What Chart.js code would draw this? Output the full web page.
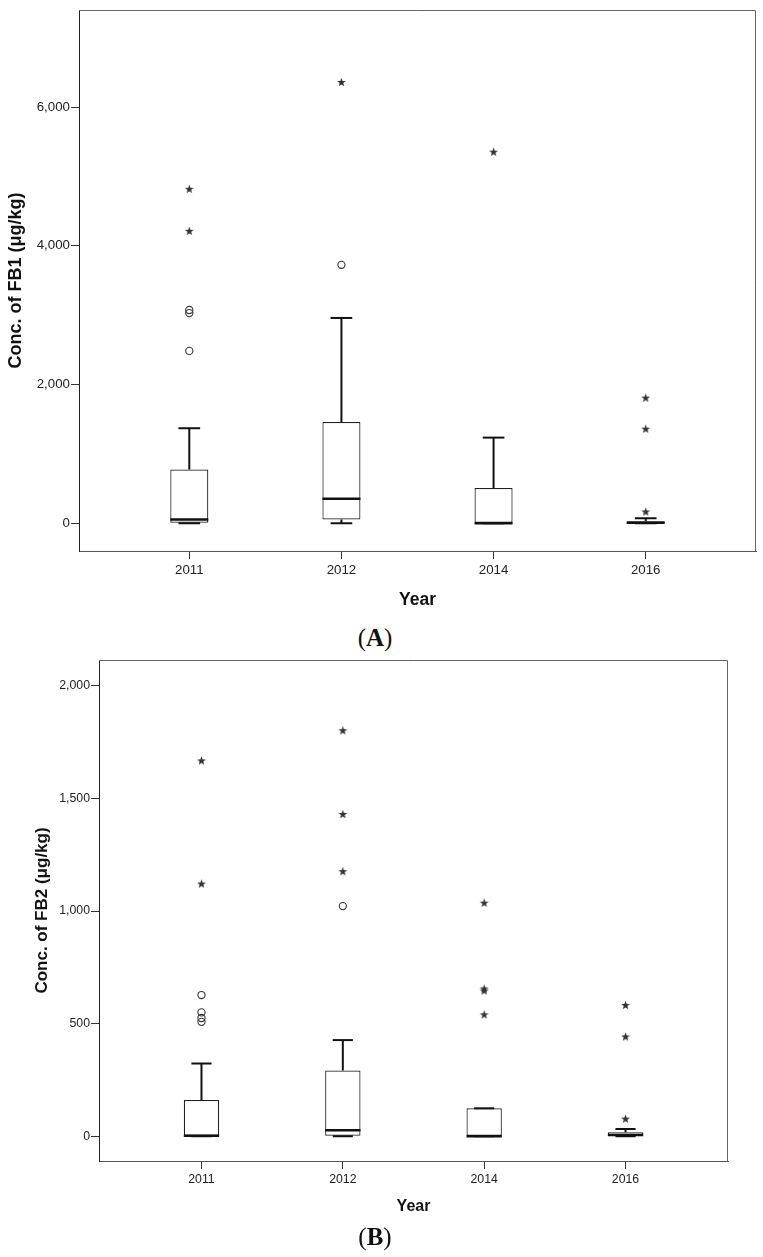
<!DOCTYPE html>
<html>
<head>
<meta charset="utf-8">
<script src="https://cdn.jsdelivr.net/npm/chart.js@4.4.1/dist/chart.umd.min.js"></script>
<style>
  html, body { margin: 0; padding: 0; background: #fff; }
  body { width: 763px; height: 1257px; position: relative; overflow: hidden; }
  canvas { position: absolute; left: 0; }
  #chartA { top: 0; }
  #chartB { top: 650px; }
  .panel { position: absolute; left: 0; width: 750px; text-align: center; font-family: 'Liberation Serif', 'Times New Roman', serif; font-size: 25px; line-height: 25px; color: #111; }
</style>
</head>
<body>
<canvas id="chartA" width="763" height="622"></canvas>
<div class="panel" style="top:625px">(<b>A</b>)</div>
<canvas id="chartB" width="763" height="575"></canvas>
<div class="panel" style="top:1224px">(<b>B</b>)</div>
<script>
const years = ['2011', '2012', '2014', '2016'];

// panel A - FB1
const fb1Min = [0, 0, 0, 0];
const fb1Q1 = [0, 55, 0, 0];
const fb1Median = [55, 355, 0, 8];
const fb1Q3 = [775, 1460, 508, 30];
const fb1Max = [1370, 2960, 1235, 72];
const fb1Circles = [[2485, 3030, 3075], [3726], [], []];
const fb1Stars = [[4210, 4815], [6355], [5350], [163, 1357, 1805]];
const fb1Ticks = [0, 2000, 4000, 6000];

// panel B - FB2
const fb2Min = [0, 0, 0, 0];
const fb2Q1 = [0, 0, 0, 0];
const fb2Median = [2, 27, 0, 5];
const fb2Q3 = [161, 292, 124, 18];
const fb2Max = [323, 427, 124, 32];
const fb2Circles = [[508, 525, 550, 627], [1022], [], []];
const fb2Stars = [[1120, 1667], [1175, 1429, 1801], [539, 645, 654, 1035], [76, 441, 581]];
const fb2Ticks = [0, 500, 1000, 1500, 2000];

Chart.defaults.font.family = "'Liberation Sans', Arial, sans-serif";
Chart.defaults.color = '#222';

const starImg = (() => {
  const c = document.createElement('canvas');
  c.width = 11; c.height = 11;
  const g = c.getContext('2d');
  g.fillStyle = '#333';
  g.beginPath();
  for (let k = 0; k < 10; k++) {
    const r = k % 2 ? 1.9 : 4.7;
    const a = -Math.PI / 2 + k * Math.PI / 5;
    g.lineTo(5.5 + r * Math.cos(a), 5.5 + r * Math.sin(a));
  }
  g.closePath();
  g.fill();
  return c;
})();

function pts(groups) {
  const out = [];
  groups.forEach((g, i) => g.forEach(v => out.push({ x: i + 1, y: v })));
  return out;
}

// whiskers, caps and median line, placed with the chart's scales
const boxParts = {
  id: 'boxParts',
  afterDatasetsDraw(chart, args, o) {
    const { ctx, scales: { x, y } } = chart;
    const bars = chart.getDatasetMeta(0).data;
    const seg = (x1, y1, x2, y2) => { ctx.beginPath(); ctx.moveTo(x1, y1); ctx.lineTo(x2, y2); ctx.stroke(); };
    ctx.save();
    ctx.strokeStyle = '#111';
    o.median.forEach((m, i) => {
      const cx = x.getPixelForValue(i + 1);
      const half = bars[i].width / 2;
      const cap = half * 0.57;
      const yMin = y.getPixelForValue(o.min[i]);
      const yQ1 = y.getPixelForValue(o.q1[i]);
      const yQ3 = y.getPixelForValue(o.q3[i]);
      const yMax = y.getPixelForValue(o.max[i]);
      ctx.lineWidth = 2;
      seg(cx, yQ3, cx, yMax);
      seg(cx - cap, yMax, cx + cap, yMax);
      seg(cx, yQ1, cx, yMin);
      seg(cx - cap, yMin, cx + cap, yMin);
      ctx.lineWidth = 2.5;
      const yMed = y.getPixelForValue(m);
      seg(cx - half, yMed, cx + half, yMed);
    });
    ctx.restore();
  }
};

const frame = {
  id: 'frame',
  afterDraw(chart) {
    const { ctx, chartArea: a } = chart;
    ctx.save();
    ctx.strokeStyle = '#666';
    ctx.lineWidth = 1;
    ctx.beginPath();
    ctx.moveTo(a.left, a.top + 0.5);
    ctx.lineTo(a.right - 0.5, a.top + 0.5);
    ctx.lineTo(a.right - 0.5, a.bottom);
    ctx.stroke();
    ctx.restore();
  }
};

function boxChart(id, s) {
  return new Chart(document.getElementById(id), {
    type: 'bar',
    data: {
      datasets: [
        {
          data: years.map((_, i) => ({ x: i + 1, y: [s.q1[i], s.q3[i]] })),
          backgroundColor: '#fff',
          borderColor: '#222',
          borderWidth: 1.2,
          borderSkipped: false,
          barPercentage: 0.25,
          categoryPercentage: 1
        },
        {
          type: 'scatter',
          data: pts(s.circles),
          pointStyle: 'circle',
          pointRadius: 3.6,
          borderColor: '#333',
          borderWidth: 1.1,
          backgroundColor: 'rgba(0,0,0,0)'
        },
        {
          type: 'scatter',
          data: pts(s.stars),
          pointStyle: starImg,
          pointRadius: 5
        }
      ]
    },
    options: {
      responsive: false,
      animation: false,
      devicePixelRatio: 1,
      layout: { padding: s.padding },
      plugins: { legend: { display: false }, tooltip: { enabled: false }, boxParts: s },
      scales: {
        x: {
          type: 'linear',
          min: 0.275,
          max: 4.725,
          offset: false,
          afterFit: sc => { sc.height = s.xHeight; },
          afterBuildTicks: sc => { sc.ticks = years.map((_, i) => ({ value: i + 1 })); },
          grid: { offset: false, drawOnChartArea: false, drawTicks: true, tickLength: 8, color: '#333' },
          border: { color: '#555', width: 1 },
          ticks: { autoSkip: false, maxRotation: 0, padding: 3, font: { size: s.tickSize }, callback: v => years[v - 1] },
          title: { display: true, text: 'Year', color: '#111', font: { size: s.xTitleSize, weight: 'bold' }, padding: { top: 0, bottom: s.xTitlePad } }
        },
        y: {
          min: s.yMin,
          max: s.yMax,
          afterFit: sc => { sc.width = s.yWidth; },
          afterBuildTicks: sc => { sc.ticks = s.ticks.map(v => ({ value: v })); },
          grid: { drawOnChartArea: false, drawTicks: true, tickLength: 8, color: '#333' },
          border: { color: '#222', width: 1 },
          ticks: { padding: 1, font: { size: s.tickSize }, callback: v => v.toLocaleString('en-US') },
          title: { display: true, text: s.yTitle, color: '#111', font: { size: s.yTitleSize, weight: 'bold' }, padding: { top: s.yTitlePad, bottom: 0 } }
        }
      }
    },
    plugins: [boxParts, frame]
  });
}

boxChart('chartA', {
  min: fb1Min, q1: fb1Q1, median: fb1Median, q3: fb1Q3, max: fb1Max,
  circles: fb1Circles, stars: fb1Stars, ticks: fb1Ticks,
  yMin: -400, yMax: 7400, yTitle: 'Conc. of FB1 (μg/kg)',
  padding: { top: 10, right: 7, left: 0, bottom: 0 },
  yWidth: 79, xHeight: 71, tickSize: 13.3,
  yTitleSize: 18, yTitlePad: 5, xTitleSize: 17.5, xTitlePad: 11.5
});

boxChart('chartB', {
  min: fb2Min, q1: fb2Q1, median: fb2Median, q3: fb2Q3, max: fb2Max,
  circles: fb2Circles, stars: fb2Stars, ticks: fb2Ticks,
  yMin: -110, yMax: 2115, yTitle: 'Conc. of FB2 (μg/kg)',
  padding: { top: 10, right: 35, left: 0, bottom: 0 },
  yWidth: 99, xHeight: 64, tickSize: 12.3,
  yTitleSize: 17, yTitlePad: 32, xTitleSize: 16, xTitlePad: 8.7
});
</script>
</body>
</html>
